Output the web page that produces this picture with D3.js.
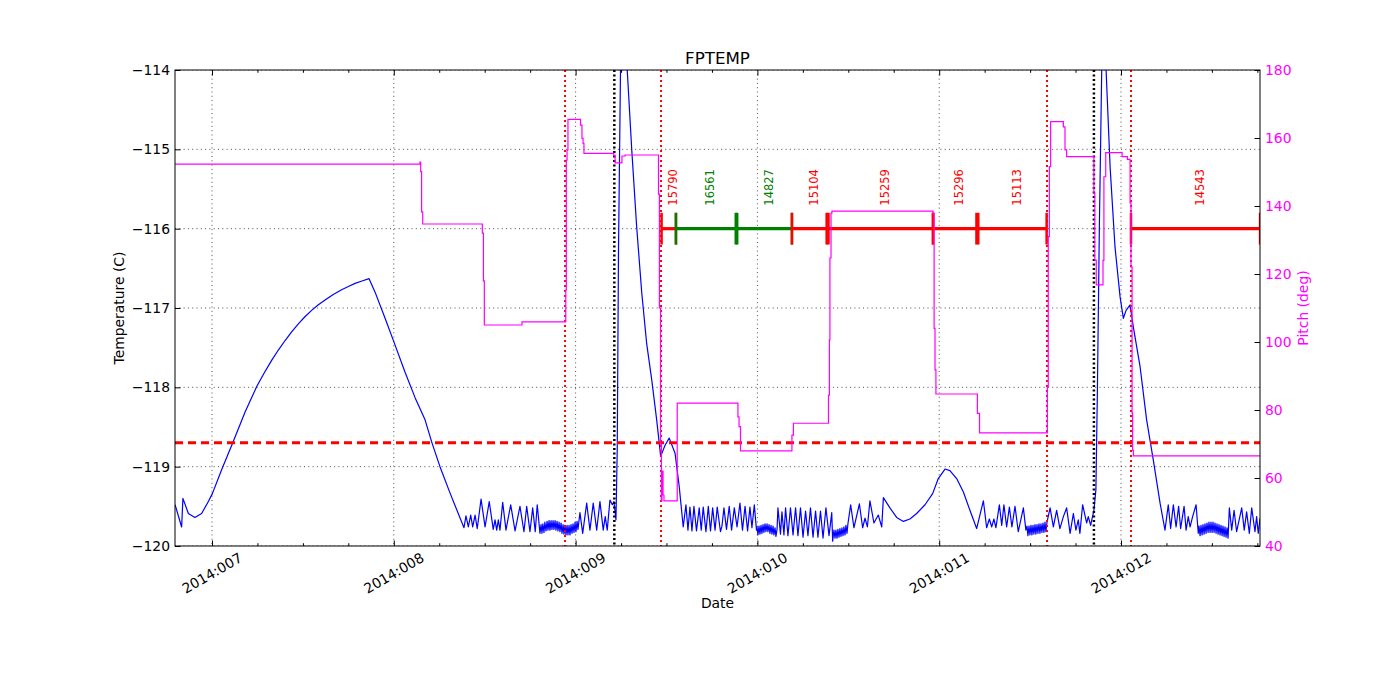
<!DOCTYPE html>
<html><head><meta charset="utf-8">
<script src="https://cdn.jsdelivr.net/npm/d3@7"></script>
<style>body{margin:0;background:#fff;} svg{display:block;} text{font-family:"DejaVu Sans",sans-serif;}</style>
</head><body><svg id="c" width="1400" height="700"></svg>
<script>
// ---------- data ----------
const xDomain = [6.7965, 12.7646];           // day of year 2014
const tempDomain = [-120, -114];
const pitchDomain = [40, 180];
const xTickDays = [7, 8, 9, 10, 11, 12];
const xTickLabels = ["2014:007", "2014:008", "2014:009", "2014:010", "2014:011", "2014:012"];
const tempTicks = [-120, -119, -118, -117, -116, -115, -114];
const pitchTicks = [40, 60, 80, 100, 120, 140, 160, 180];
const tempLimit = -118.70;
const redEvents = [8.942, 9.470, 11.593, 12.055];
const blackEvents = [9.213, 11.851];
const obsIds = ["15790", "16561", "14827", "15104", "15259", "15296", "15113", "14543"];
const obsStart = [9.473, 9.552, 9.889, 10.190, 10.391, 10.966, 11.215, 12.055];
const obsStop = [9.552, 9.881, 10.190, 10.381, 10.966, 11.205, 11.591, 12.765];
const obsColor = ["#ff0000", "#008000", "#008000", "#ff0000", "#ff0000", "#ff0000", "#ff0000", "#ff0000"];
const obsLevel = -116;
const obsLabelLevel = -115.71;

const tempSeries = [
[6.797,-119.48],[6.833,-119.76],[6.840,-119.40],[6.870,-119.59],[6.906,-119.64],[6.943,-119.59],[6.980,-119.44],[7.002,-119.34],[7.053,-119.04],[7.112,-118.71],[7.182,-118.31],[7.214,-118.15],[7.246,-117.99],[7.287,-117.82],[7.328,-117.66],[7.365,-117.53],[7.402,-117.41],[7.438,-117.30],[7.475,-117.20],[7.511,-117.11],[7.548,-117.03],[7.585,-116.96],[7.622,-116.90],[7.667,-116.83],[7.713,-116.77],[7.750,-116.73],[7.787,-116.69],[7.825,-116.66],[7.864,-116.63],
[7.897,-116.80],[7.952,-117.13],[8.001,-117.43],[8.062,-117.81],[8.117,-118.13],[8.172,-118.41],[8.210,-118.70],[8.254,-119.00],[8.309,-119.33],[8.386,-119.77],
[8.397,-119.62],[8.410,-119.76],[8.423,-119.61],[8.434,-119.76],[8.447,-119.61],[8.459,-119.78],[8.480,-119.41],[8.502,-119.76],[8.525,-119.44],[8.547,-119.79],[8.557,-119.67],[8.566,-119.80],[8.575,-119.67],[8.584,-119.80],[8.599,-119.45],[8.617,-119.80],[8.643,-119.48],[8.667,-119.81],[8.694,-119.50],[8.716,-119.82],[8.731,-119.50],[8.749,-119.82],[8.764,-119.52],[8.778,-119.82],[8.789,-119.48],[8.804,-119.84],
[8.810,-119.73],[8.815,-119.84],[8.820,-119.72],[8.826,-119.83],[8.831,-119.70],[8.837,-119.81],[8.843,-119.69],[8.848,-119.80],[8.854,-119.68],[8.859,-119.80],[8.865,-119.68],[8.870,-119.79],[8.876,-119.68],[8.881,-119.79],[8.887,-119.68],[8.892,-119.80],[8.898,-119.69],[8.903,-119.81],[8.909,-119.70],[8.914,-119.82],[8.920,-119.71],[8.925,-119.84],[8.931,-119.73],[8.936,-119.85],[8.942,-119.74],[8.947,-119.86],[8.953,-119.74],[8.958,-119.86],[8.964,-119.74],[8.969,-119.86],[8.975,-119.73],[8.980,-119.84],[8.986,-119.72],[8.991,-119.83],[8.997,-119.70],[9.002,-119.82],[9.008,-119.69],[9.013,-119.79],
[9.024,-119.58],[9.039,-119.84],[9.061,-119.46],[9.079,-119.80],[9.097,-119.46],[9.116,-119.80],[9.134,-119.44],[9.152,-119.80],[9.163,-119.63],[9.174,-119.80],[9.189,-119.42],[9.202,-119.48],[9.211,-119.44],[9.222,-119.67],[9.229,-118.79],[9.236,-116.27],[9.247,-114.00],[9.266,-113.62],[9.284,-114.00],[9.309,-115.01],[9.336,-115.98],[9.364,-116.81],[9.391,-117.45],[9.419,-117.91],[9.446,-118.41],[9.468,-118.87],[9.492,-118.73],[9.515,-118.64],[9.547,-118.83],[9.570,-119.25],[9.592,-119.76],
[9.607,-119.48],[9.618,-119.80],[9.629,-119.51],[9.640,-119.81],[9.651,-119.50],[9.665,-119.81],[9.680,-119.52],[9.691,-119.80],[9.702,-119.51],[9.717,-119.82],[9.730,-119.50],[9.742,-119.81],[9.754,-119.52],[9.767,-119.80],[9.779,-119.51],[9.797,-119.82],[9.805,-119.75],[9.816,-119.52],[9.830,-119.79],[9.845,-119.50],[9.858,-119.80],[9.873,-119.52],[9.888,-119.76],[9.904,-119.46],[9.918,-119.80],[9.932,-119.50],[9.946,-119.81],[9.959,-119.51],[9.970,-119.77],[9.983,-119.48],[9.995,-119.80],
[9.998,-119.76],[10.003,-119.86],[10.009,-119.75],[10.014,-119.85],[10.020,-119.74],[10.025,-119.84],[10.031,-119.73],[10.036,-119.83],[10.042,-119.72],[10.047,-119.82],[10.053,-119.72],[10.058,-119.82],[10.064,-119.73],[10.069,-119.84],[10.075,-119.74],[10.080,-119.85],[10.086,-119.75],[10.091,-119.86],[10.097,-119.77],[10.102,-119.88],[10.108,-119.79],
[10.113,-119.52],[10.127,-119.85],[10.135,-119.57],[10.146,-119.86],[10.155,-119.52],[10.168,-119.87],[10.182,-119.52],[10.196,-119.86],[10.210,-119.52],[10.223,-119.87],[10.237,-119.52],[10.251,-119.89],[10.265,-119.56],[10.278,-119.87],[10.292,-119.52],[10.306,-119.89],[10.320,-119.56],[10.333,-119.89],[10.347,-119.56],[10.361,-119.90],[10.377,-119.52],[10.394,-119.87],[10.409,-119.58],[10.414,-119.94],
[10.421,-119.80],[10.427,-119.90],[10.432,-119.80],[10.438,-119.90],[10.443,-119.79],[10.449,-119.89],[10.454,-119.78],[10.460,-119.88],[10.465,-119.77],[10.471,-119.87],[10.476,-119.76],[10.482,-119.86],[10.487,-119.74],[10.493,-119.84],[10.498,-119.72],
[10.513,-119.48],[10.531,-119.77],[10.561,-119.47],[10.579,-119.77],[10.592,-119.65],[10.605,-119.76],[10.619,-119.43],[10.641,-119.71],[10.665,-119.61],[10.684,-119.76],[10.693,-119.39],[10.729,-119.52],[10.766,-119.64],[10.803,-119.69],[10.839,-119.66],[10.876,-119.59],[10.922,-119.48],[10.964,-119.34],[10.995,-119.15],[11.032,-119.03],[11.059,-119.05],[11.096,-119.15],[11.133,-119.32],[11.169,-119.55],[11.206,-119.78],
[11.243,-119.43],[11.261,-119.77],[11.276,-119.66],[11.289,-119.76],[11.301,-119.66],[11.312,-119.77],[11.331,-119.48],[11.344,-119.74],[11.356,-119.48],[11.371,-119.76],[11.386,-119.51],[11.400,-119.76],[11.417,-119.50],[11.435,-119.82],[11.463,-119.52],[11.477,-119.80],
[11.483,-119.75],[11.488,-119.87],[11.494,-119.75],[11.499,-119.86],[11.505,-119.74],[11.510,-119.86],[11.516,-119.74],[11.521,-119.85],[11.527,-119.73],[11.532,-119.85],[11.538,-119.73],[11.543,-119.84],[11.549,-119.72],[11.554,-119.84],[11.560,-119.72],[11.565,-119.83],[11.571,-119.71],[11.576,-119.83],[11.582,-119.70],[11.587,-119.82],[11.593,-119.70],
[11.610,-119.52],[11.628,-119.76],[11.646,-119.55],[11.664,-119.78],[11.683,-119.63],[11.701,-119.52],[11.720,-119.84],[11.738,-119.59],[11.752,-119.80],[11.765,-119.67],[11.774,-119.84],[11.789,-119.48],[11.811,-119.71],[11.820,-119.63],[11.833,-119.74],[11.851,-119.55],[11.862,-119.29],[11.870,-118.07],[11.881,-115.98],[11.894,-114.00],[11.906,-113.62],[11.918,-114.00],[11.940,-115.22],[11.967,-116.23],[11.995,-116.86],[12.013,-117.13],[12.028,-117.03],[12.050,-116.96],[12.068,-117.24],[12.105,-117.74],[12.141,-118.41],[12.178,-118.92],[12.215,-119.46],[12.242,-119.80],
[12.260,-119.48],[12.273,-119.78],[12.288,-119.48],[12.303,-119.76],[12.317,-119.50],[12.328,-119.78],[12.347,-119.50],[12.358,-119.80],[12.370,-119.63],[12.380,-119.76],[12.394,-119.63],[12.413,-119.48],[12.425,-119.84],
[12.429,-119.75],[12.435,-119.87],[12.440,-119.74],[12.446,-119.86],[12.451,-119.73],[12.457,-119.85],[12.462,-119.72],[12.468,-119.84],[12.473,-119.71],[12.479,-119.83],[12.484,-119.70],[12.490,-119.83],[12.495,-119.70],[12.501,-119.83],[12.506,-119.70],[12.512,-119.83],[12.517,-119.71],[12.523,-119.84],[12.528,-119.72],[12.534,-119.85],[12.539,-119.73],[12.545,-119.86],[12.550,-119.74],[12.556,-119.87],[12.561,-119.75],[12.567,-119.88],[12.572,-119.76],[12.578,-119.89],[12.583,-119.77],[12.589,-119.90],
[12.596,-119.52],[12.609,-119.80],[12.622,-119.55],[12.636,-119.82],[12.664,-119.52],[12.678,-119.80],[12.691,-119.57],[12.706,-119.84],[12.719,-119.52],[12.737,-119.82],[12.746,-119.63],[12.755,-119.84],[12.765,-119.65]
];

const pitchSeries = [
[6.797,152.3],[8.144,152.9],[8.148,150.1],[8.153,138.3],[8.159,134.7],[8.487,132.0],[8.493,118.0],[8.498,105.0],[8.705,105.9],
[8.946,115.3],[8.949,153.5],[8.953,156.5],[8.958,165.5],[9.027,163.8],[9.035,159.9],[9.041,158.4],[9.046,155.5],
[9.210,154.9],[9.217,152.7],[9.255,154.7],[9.272,155.0],[9.456,143.5],[9.461,110.0],[9.467,70.0],[9.472,53.3],[9.475,62.0],[9.481,55.0],[9.486,53.3],
[9.559,82.0],[9.893,78.0],[9.899,75.1],[9.907,68.0],[10.190,72.6],[10.198,76.1],
[10.391,84.4],[10.396,100.6],[10.399,124.7],[10.405,137.9],[10.410,138.5],[10.966,137.9],[10.972,104.0],[10.977,91.8],[10.982,84.7],
[11.210,79.0],[11.222,73.3],[11.595,86.9],[11.600,131.0],[11.606,151.6],[11.613,164.8],[11.683,163.3],[11.692,156.5],[11.701,154.5],
[11.851,143.7],[11.856,124.1],[11.864,116.8],[11.901,124.0],[11.906,148.6],[11.916,155.7],[12.006,154.5],[12.035,153.7],
[12.050,140.9],[12.055,122.1],[12.061,79.1],[12.064,68.2],[12.068,66.5],[12.765,66.5]
];

// ---------- layout ----------
const L = 175, R = 1260, T = 70, B = 546;
const FONT = "DejaVu Sans";
const x = d3.scaleLinear().domain(xDomain).range([L, R]);
const yT = d3.scaleLinear().domain(tempDomain).range([B, T]);
const yP = d3.scaleLinear().domain(pitchDomain).range([B, T]);

const svg = d3.select("#c");
svg.append("defs").append("clipPath").attr("id", "clip")
  .append("rect").attr("x", L).attr("y", T).attr("width", R - L).attr("height", B - T);
const plot = svg.append("g").attr("clip-path", "url(#clip)");

// grid
plot.selectAll("line.gx").data(xTickDays).join("line").attr("class", "gx")
  .attr("x1", d => x(d)).attr("x2", d => x(d)).attr("y1", T).attr("y2", B)
  .attr("stroke", "#000").attr("stroke-width", 0.7).attr("stroke-dasharray", "1,3.3");
plot.selectAll("line.gy").data(tempTicks).join("line").attr("class", "gy")
  .attr("x1", L).attr("x2", R).attr("y1", d => yT(d)).attr("y2", d => yT(d))
  .attr("stroke", "#000").attr("stroke-width", 0.7).attr("stroke-dasharray", "1,3.3");

// temperature
plot.append("path").datum(tempSeries)
  .attr("d", d3.line().x(d => x(d[0])).y(d => yT(d[1])))
  .attr("fill", "none").attr("stroke", "#0000ff").attr("stroke-width", 1.2).attr("stroke-linejoin", "round");

// limit line
plot.append("line").attr("x1", L).attr("x2", R).attr("y1", yT(tempLimit)).attr("y2", yT(tempLimit))
  .attr("stroke", "#ff0000").attr("stroke-width", 3).attr("stroke-dasharray", "8,5");

// event lines
plot.selectAll("line.ev").data(redEvents).join("line").attr("class", "ev")
  .attr("x1", d => x(d)).attr("x2", d => x(d)).attr("y1", T).attr("y2", B)
  .attr("stroke", "#ff0000").attr("stroke-width", 2).attr("stroke-dasharray", "2,3");
plot.selectAll("line.bk").data(blackEvents).join("line").attr("class", "bk")
  .attr("x1", d => x(d)).attr("x2", d => x(d)).attr("y1", T).attr("y2", B)
  .attr("stroke", "#000").attr("stroke-width", 2.5).attr("stroke-dasharray", "2,2.5");

// observation bars
const obs = obsIds.map((id, i) => ({id, s: obsStart[i], e: obsStop[i], c: obsColor[i]}));
const yo = yT(obsLevel);
const tickHalf = yT(obsLevel - 0.2) - yo;
obs.forEach(o => {
  plot.append("line").attr("x1", x(o.s)).attr("x2", x(o.e)).attr("y1", yo).attr("y2", yo)
    .attr("stroke", o.c).attr("stroke-width", 3.2);
  [o.s, o.e].forEach(t => {
    plot.append("line").attr("x1", x(t)).attr("x2", x(t)).attr("y1", yo - tickHalf).attr("y2", yo + tickHalf)
      .attr("stroke", o.c).attr("stroke-width", 2.5);
  });
});
svg.selectAll("text.obs").data(obs).join("text").attr("class", "obs")
  .attr("transform", o => `translate(${x((o.s + o.e) / 2) + 8.3},${yT(obsLabelLevel)}) rotate(-90)`)
  .attr("font-family", FONT).attr("font-size", 11.5).attr("fill", o => o.c).text(o => o.id);

// pitch
plot.append("path").datum(pitchSeries)
  .attr("d", d3.line().curve(d3.curveStepAfter).x(d => x(d[0])).y(d => yP(d[1])))
  .attr("fill", "none").attr("stroke", "#ff00ff").attr("stroke-width", 1.2);

// spines
svg.append("rect").attr("x", L).attr("y", T).attr("width", R - L).attr("height", B - T)
  .attr("fill", "none").attr("stroke", "#000").attr("stroke-width", 1);

// axes ticks
const xMinor = d3.range(7, 12.76, 0.25).filter(d => !xTickDays.includes(d));
function styleAxis(g) { g.select(".domain").remove(); g.attr("font-family", FONT).attr("font-size", 13.9); }
svg.append("g").attr("transform", `translate(0,${B})`).call(d3.axisBottom(x).tickValues(xTickDays).tickSize(-5.5).tickFormat("")).call(styleAxis);
svg.append("g").attr("transform", `translate(0,${B})`).call(d3.axisBottom(x).tickValues(xMinor).tickSize(-2.8).tickFormat("")).call(styleAxis);
svg.append("g").attr("transform", `translate(0,${T})`).call(d3.axisTop(x).tickValues(xTickDays).tickSize(-5.5).tickFormat("")).call(styleAxis);
svg.append("g").attr("transform", `translate(0,${T})`).call(d3.axisTop(x).tickValues(xMinor).tickSize(-2.8).tickFormat("")).call(styleAxis);

const gl = svg.append("g").attr("transform", `translate(${L},0)`)
  .call(d3.axisLeft(yT).tickValues(tempTicks).tickSize(-5.5).tickPadding(5).tickFormat(d3.format("d"))).call(styleAxis);
gl.selectAll("text").attr("fill", "#000");
const gr = svg.append("g").attr("transform", `translate(${R},0)`)
  .call(d3.axisRight(yP).tickValues(pitchTicks).tickSize(-5.5).tickPadding(5).tickFormat(d3.format("d"))).call(styleAxis);
gr.selectAll("text").attr("fill", "#ff00ff");

// x tick labels (rotated)
svg.selectAll("text.xl").data(xTickDays).join("text").attr("class", "xl")
  .attr("transform", (d) => `translate(${x(d)},573) rotate(-30)`)
  .attr("text-anchor", "middle").attr("dominant-baseline", "central")
  .attr("font-family", FONT).attr("font-size", 13.9).attr("fill", "#000")
  .text((d, i) => xTickLabels[i]);

// titles
svg.append("text").attr("x", (L + R) / 2).attr("y", 64).attr("text-anchor", "middle")
  .attr("font-family", FONT).attr("font-size", 16.7).text("FPTEMP");
svg.append("text").attr("x", (L + R) / 2).attr("y", 608).attr("text-anchor", "middle")
  .attr("font-family", FONT).attr("font-size", 13.9).text("Date");
svg.append("text").attr("transform", `translate(123.5,${(T + B) / 2}) rotate(-90)`).attr("text-anchor", "middle")
  .attr("font-family", FONT).attr("font-size", 13.9).text("Temperature (C)");
svg.append("text").attr("transform", `translate(1307.5,${(T + B) / 2}) rotate(-90)`).attr("text-anchor", "middle")
  .attr("font-family", FONT).attr("font-size", 13.9).attr("fill", "#ff00ff").text("Pitch (deg)");
</script>
</body></html>
